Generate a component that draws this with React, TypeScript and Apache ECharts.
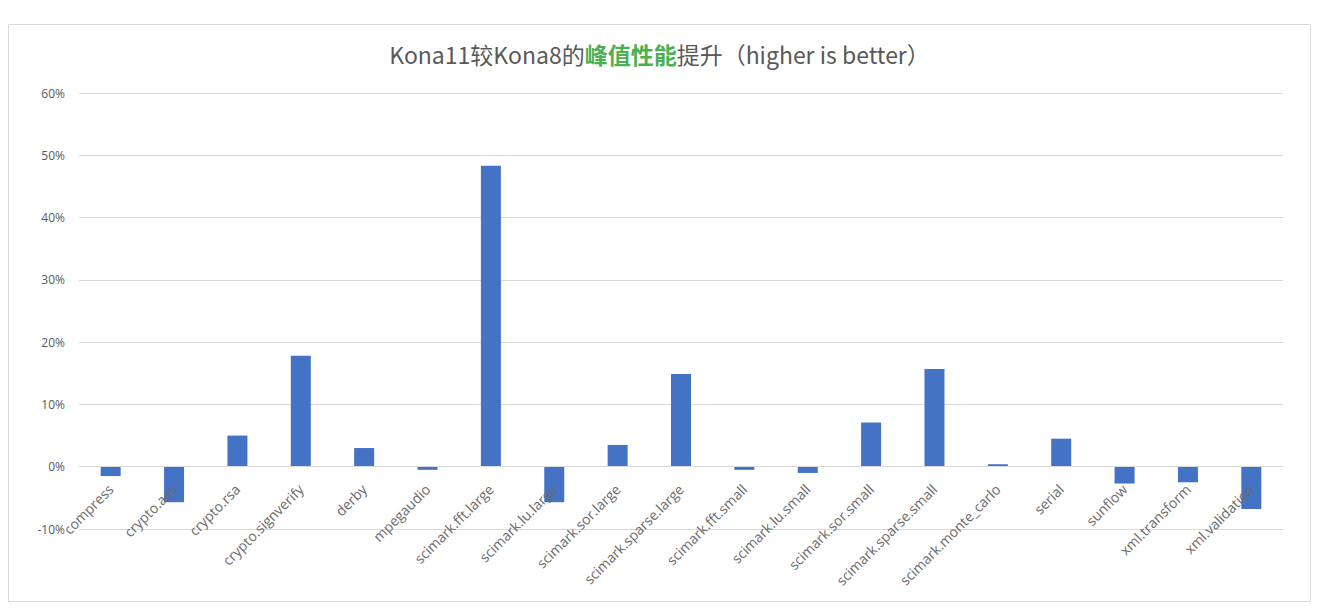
import React, { useEffect, useRef } from "react";
import * as echarts from "echarts";

const categories = [
  "compress",
  "crypto.aes",
  "crypto.rsa",
  "crypto.signverify",
  "derby",
  "mpegaudio",
  "scimark.fft.large",
  "scimark.lu.large",
  "scimark.sor.large",
  "scimark.sparse.large",
  "scimark.fft.small",
  "scimark.lu.small",
  "scimark.sor.small",
  "scimark.sparse.small",
  "scimark.monte_carlo",
  "serial",
  "sunflow",
  "xml.transform",
  "xml.validation",
];

const improvement = [
  -1.5, -5.7, 5.0, 17.8, 3.0, -0.5, 48.3, -5.7, 3.5, 14.9, -0.5, -1.0, 7.1, 15.7, 0.4, 4.5, -2.7, -2.5, -6.8,
];

const yMin = -10;
const yMax = 60;
const yInterval = 10;

export default function App() {
  const ref = useRef<HTMLDivElement>(null);
  useEffect(() => {
    if (!ref.current) return;
    const chart = echarts.init(ref.current, undefined, { renderer: "svg" });
    const gridTop = 85;
    const gridBottom = 73;
    const gridHeight = 594 - gridTop - gridBottom;
    const zeroOffset = (gridHeight * (0 - yMin)) / (yMax - yMin);
    chart.setOption({
      animation: false,
      backgroundColor: "#ffffff",
      graphic: [
        {
          type: "rect",
          shape: { x: 0.5, y: 16.5, width: 1302, height: 577 },
          style: { fill: "none", stroke: "#d9d9d9", lineWidth: 1 },
          silent: true,
        },
      ],
      title: {
        text: "{n|Kona11较Kona8的}{g|峰值性能}{n|提升（higher is better）}",
        left: "center",
        top: 29,
        textStyle: {
          rich: {
            n: { fontSize: 23, color: "#595959", fontWeight: "normal", fontFamily: "Noto Sans CJK SC, sans-serif" },
            g: { fontSize: 23, color: "#4caf50", fontWeight: "bold", fontFamily: "Noto Sans CJK SC, sans-serif" },
          },
        },
      },
      grid: { left: 71, right: 28, top: gridTop, bottom: gridBottom, containLabel: false, outerBoundsMode: "none" },
      xAxis: {
        type: "category",
        data: categories,
        offset: -zeroOffset,
        z: 10,
        axisLine: { onZero: false, lineStyle: { color: "#d9d9d9", width: 1 } },
        axisTick: { show: false },
        axisLabel: {
          rotate: 45,
          interval: 0,
          color: "#6b6b6b",
          fontSize: 14,
          fontFamily: "Open Sans, sans-serif",
          margin: 20,
        },
      },
      yAxis: {
        type: "value",
        min: yMin,
        max: yMax,
        interval: yInterval,
        axisLine: { show: false },
        axisTick: { show: false },
        splitLine: { lineStyle: { color: "#d9d9d9", width: 1 } },
        axisLabel: {
          formatter: "{value}%",
          color: "#595959",
          fontSize: 12,
          fontFamily: "Open Sans, sans-serif",
          margin: 14,
        },
      },
      series: [
        {
          type: "bar",
          data: improvement,
          barWidth: 20,
          z: 2,
          itemStyle: { color: "#4472c4" },
        },
      ],
    });
    return () => chart.dispose();
  }, []);
  return <div ref={ref} style={{ width: 1303, height: 594 }} />;
}
